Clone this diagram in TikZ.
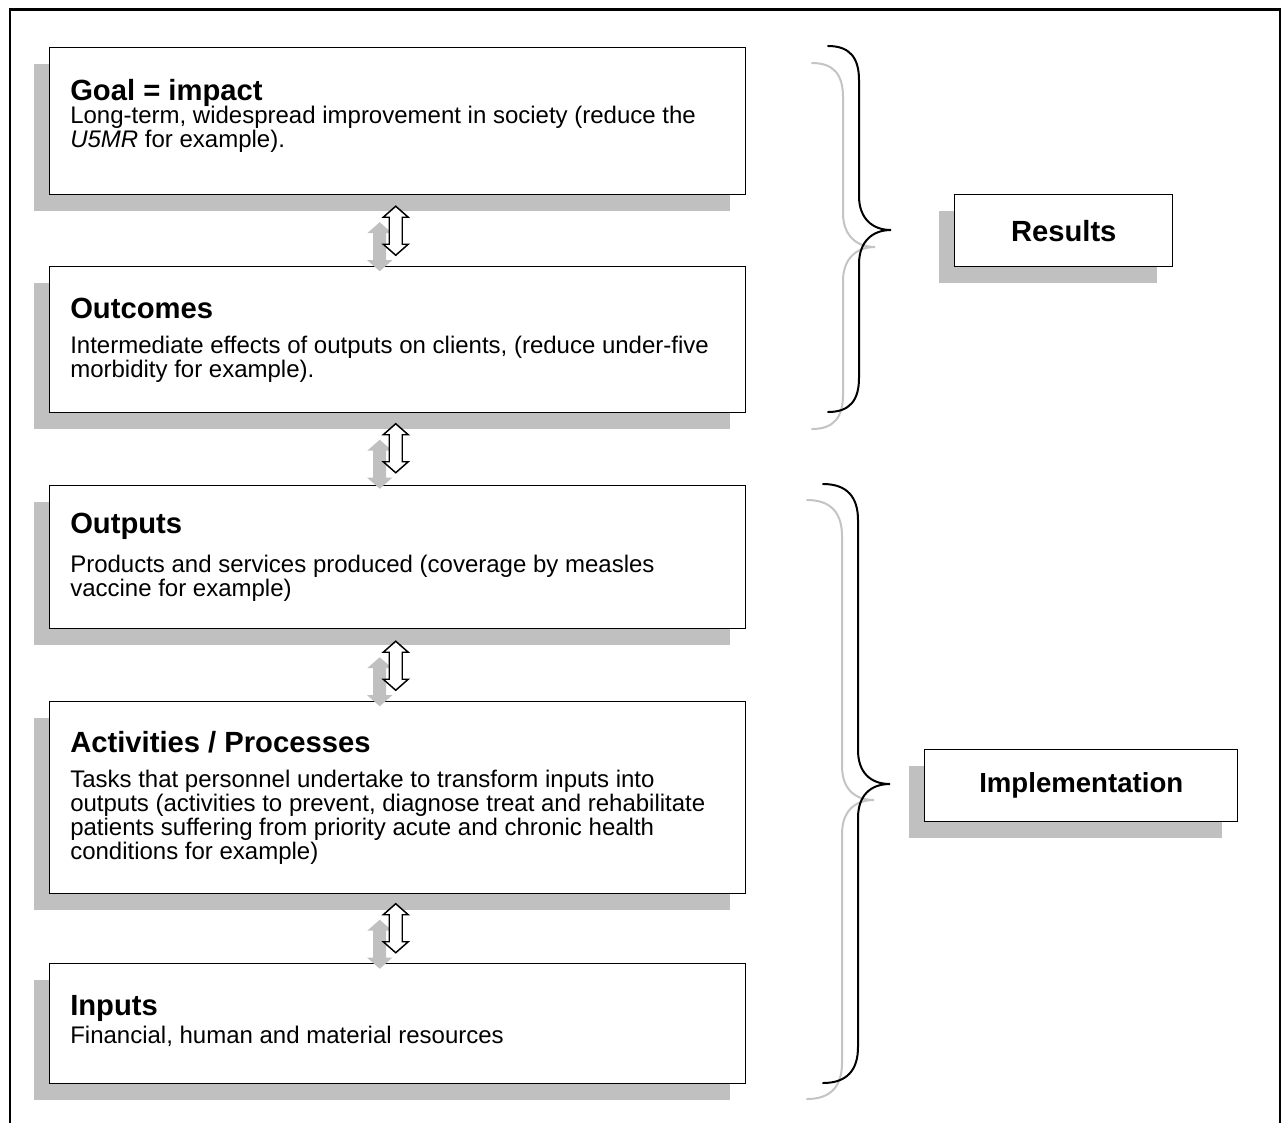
\documentclass[tikz,border=0pt]{standalone}
\usepackage{fontspec}
\setmainfont{Liberation Sans}
\usetikzlibrary{calc,shadows}
\definecolor{shadowgray}{RGB}{192,192,192}
\definecolor{bracegray}{RGB}{196,196,196}
\newcommand\twoway[1]{%
  \fill[shadowgray, shift={($(#1)+(-16,16)$)}]
    (0,-24.5) -- (12.5,-13.5) -- (6.5,-13.5) -- (6.5,13.5) -- (12.5,13.5) -- (0,24.5)
    -- (-12.5,13.5) -- (-6.5,13.5) -- (-6.5,-13.5) -- (-12.5,-13.5) -- cycle;
}
\newcommand\twowayfront[1]{%
  \draw[line width=1.1pt, fill=white, line join=miter, shift={(#1)}]
    (0,-24.5) -- (12.5,-13.5) -- (6.5,-13.5) -- (6.5,13.5) -- (12.5,13.5) -- (0,24.5)
    -- (-12.5,13.5) -- (-6.5,13.5) -- (-6.5,-13.5) -- (-12.5,-13.5) -- cycle;
}
\begin{document}
\begin{tikzpicture}[x=0.75pt,y=-0.75pt,
  box/.style={draw=black, line width=1.1pt, fill=white, anchor=north west, inner sep=0pt,
    drop shadow={shadow xshift=-12pt, shadow yshift=-12pt, fill=shadowgray, opacity=1, shadow scale=1}},
  titletext/.style={font=\fontsize{21.9}{26}\selectfont\bfseries, anchor=base west, inner sep=0pt},
  bodytext/.style={font=\fontsize{18}{17.25}\selectfont, anchor=base west, inner sep=0pt},
  sidetext/.style={font=\fontsize{21.9}{26}\selectfont\bfseries, inner sep=0pt},
  brace/.style={line width=1.5pt, line cap=round},
  gbrace/.style={line width=1.5pt, line cap=round, draw=bracegray}
]
\useasboundingbox (0,0) rectangle (1282,1122);
\fill[white] (0,0) rectangle (1282,1122);

% outer frame (open at the bottom)
\draw[line width=1.9pt] (10,1140) -- (10,9.5) -- (1280,9.5) -- (1280,1140);

% main boxes
\node[box, minimum width=522pt, minimum height=110.25pt] (goal) at (49,47) {};
\node[box, minimum width=522pt, minimum height=109.5pt] (outc) at (49,266) {};
\node[box, minimum width=522pt, minimum height=107.25pt] (outp) at (49,485) {};
\node[box, minimum width=522pt, minimum height=144pt] (acti) at (49,701) {};
\node[box, minimum width=522pt, minimum height=90pt] (inpu) at (49,963) {};

% texts
\node[titletext] (goalt) at ($(goal.north west)+(21,53)$) {Goal = impact};
\node[bodytext] (goalb) at ($(goal.north west)+(21,76)$)
  {\begin{tabular}[t]{@{}l@{}}Long-term, widespread improvement in society (reduce the\\\textit{U5MR} for example).\end{tabular}};

\node[titletext] (outct) at ($(outc.north west)+(21,52)$) {Outcomes};
\node[bodytext] (outcb) at ($(outc.north west)+(21,87)$)
  {\begin{tabular}[t]{@{}l@{}}Intermediate effects of outputs on clients, (reduce under-five\\morbidity for example).\end{tabular}};

\node[titletext] (outpt) at ($(outp.north west)+(21,48)$) {Outputs};
\node[bodytext] (outpb) at ($(outp.north west)+(21,87)$)
  {\begin{tabular}[t]{@{}l@{}}Products and services produced (coverage by measles\\vaccine for example)\end{tabular}};

\node[titletext] (actit) at ($(acti.north west)+(21,51)$) {Activities / Processes};
\node[bodytext] (actib) at ($(acti.north west)+(21,86)$)
  {\begin{tabular}[t]{@{}l@{}}Tasks that personnel undertake to transform inputs into\\outputs (activities to prevent, diagnose treat and rehabilitate\\patients suffering from priority acute and chronic health\\conditions for example)\end{tabular}};

\node[titletext] (inputt) at ($(inpu.north west)+(21,52)$) {Inputs};
\node[bodytext] (inpub) at ($(inpu.north west)+(21,80)$)
  {Financial, human and material resources};

% side boxes
\node[box, minimum width=163.5pt, minimum height=54pt] (res) at (954,194) {};
\node[sidetext] (rest) at (res.center) {Results};
\node[box, minimum width=234.75pt, minimum height=54pt] (impl) at (924,749) {};
\node[sidetext, font=\fontsize{20.7}{25}\selectfont\bfseries] (implt) at (impl.center) {Implementation};

% double arrows between boxes
\coordinate (a1) at ($(goal.south)!0.5!(outc.north)+(-2,0)$);
\coordinate (a2) at ($(outc.south)!0.5!(outp.north)+(-2,-1)$);
\coordinate (a3) at ($(outp.south)!0.5!(acti.north)+(-2,0.5)$);
\coordinate (a4) at ($(acti.south)!0.5!(inpu.north)+(-2,-0.5)$);
\twoway{a1}\twoway{a2}\twoway{a3}\twoway{a4}
\twowayfront{a1}\twowayfront{a2}\twowayfront{a3}\twowayfront{a4}

% braces: Results
\draw[gbrace, shift={(-16,17)}] (828,46) .. controls (850,46) and (859,58) .. (859,80) -- (859,196)
  .. controls (859,218) and (872,230) .. (891,230) .. controls (872,230) and (859,242) .. (859,264)
  -- (859,378) .. controls (859,400) and (850,412) .. (828,412);
\draw[brace] (828,46) .. controls (850,46) and (859,58) .. (859,80) -- (859,196)
  .. controls (859,218) and (872,230) .. (891,230) .. controls (872,230) and (859,242) .. (859,264)
  -- (859,378) .. controls (859,400) and (850,412) .. (828,412);

% braces: Implementation
\draw[gbrace, shift={(-16,16)}] (823,484) .. controls (847,484) and (858,497) .. (858,520) -- (858,750)
  .. controls (858,772) and (870,784) .. (890,784) .. controls (870,784) and (858,796) .. (858,818)
  -- (858,1047) .. controls (858,1070) and (847,1083) .. (823,1083);
\draw[brace] (823,484) .. controls (847,484) and (858,497) .. (858,520) -- (858,750)
  .. controls (858,772) and (870,784) .. (890,784) .. controls (870,784) and (858,796) .. (858,818)
  -- (858,1047) .. controls (858,1070) and (847,1083) .. (823,1083);
\end{tikzpicture}
\end{document}
